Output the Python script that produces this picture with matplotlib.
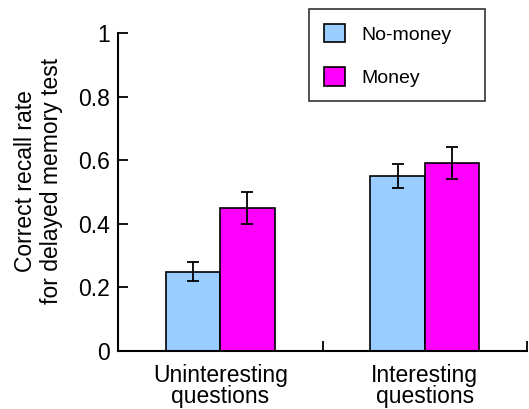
import numpy as np
import matplotlib
matplotlib.use('Agg')
import matplotlib.pyplot as plt
from matplotlib.patches import Patch

plt.rcParams['font.family'] = ['Liberation Sans', 'DejaVu Sans']

groups = ['Uninteresting\nquestions', 'Interesting\nquestions']
no_money = [0.25, 0.55]
no_money_err = [0.03, 0.037]
money = [0.45, 0.59]
money_err = [0.05, 0.05]

blue = '#99CCFF'
magenta = '#FF00FF'

fig = plt.figure(figsize=(5.29, 4.09), dpi=100)
ax = fig.add_axes([0.2231, 0.1418, 0.7731, 0.7775])

centers = np.arange(len(groups)) + 0.5
width = 0.266
err_kw = dict(ecolor='black', elinewidth=1.3, capsize=4, capthick=1.3)
ax.bar(centers - width / 2, no_money, width, yerr=no_money_err, color=blue,
       edgecolor='black', linewidth=1.2, error_kw=err_kw, zorder=2)
ax.bar(centers + width / 2, money, width, yerr=money_err, color=magenta,
       edgecolor='black', linewidth=1.2, error_kw=err_kw, zorder=2)

ax.set_xlim(0, 2)
ax.set_ylim(0, 1)
ax.spines['top'].set_visible(False)
ax.spines['right'].set_visible(False)
ax.spines['left'].set_linewidth(1.5)
ax.spines['bottom'].set_linewidth(1.5)

ax.set_yticks([0, 0.2, 0.4, 0.6, 0.8, 1])
ax.set_yticklabels(['0', '0.2', '0.4', '0.6', '0.8', '1'])
ax.tick_params(axis='y', direction='in', length=7, width=1.3, labelsize=16.5, pad=6)

# group separators as major ticks, group names on minor ticks
ax.set_xticks([1, 2])
ax.set_xticklabels([])
ax.tick_params(axis='x', which='major', direction='in', length=7, width=1.3)
ax.set_xticks(centers, minor=True)
ax.set_xticklabels(groups, minor=True, fontsize=16.5, linespacing=0.9)
ax.tick_params(axis='x', which='minor', length=0, pad=9)

ax.set_ylabel('Correct recall rate\nfor delayed memory test', fontsize=16.5,
              linespacing=1.2)
ax.yaxis.set_label_coords(-0.134, 0.535)

handles = [Patch(facecolor=blue, edgecolor='black', linewidth=1.2, label='No-money'),
           Patch(facecolor=magenta, edgecolor='black', linewidth=1.2, label='Money')]
leg = fig.legend(handles=handles, loc='upper left', mode='expand',
                 bbox_to_anchor=(0.584, 0.978, 0.333, 0.0),
                 fontsize=14, frameon=True, fancybox=False, edgecolor='black',
                 handlelength=1.1, handleheight=1.1, handletextpad=0.85,
                 labelspacing=1.2, borderpad=0.75, borderaxespad=0)
leg.get_frame().set_linewidth(1.2)

fig.savefig('out.png', dpi=100)
